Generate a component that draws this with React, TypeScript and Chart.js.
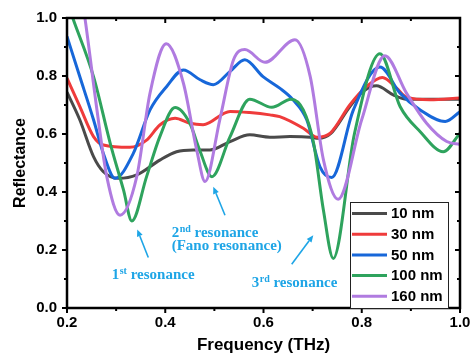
import React, { useEffect, useRef } from 'react';
import { Chart, registerables } from 'chart.js';

Chart.register(...registerables);

// ---------- data ----------
const freq10 = [0.2, 0.226, 0.254, 0.274, 0.305, 0.342, 0.389, 0.423, 0.457, 0.491, 0.532, 0.572, 0.613, 0.654, 0.695, 0.712, 0.736, 0.776, 0.803, 0.83, 0.864, 0.891, 0.94, 1.0];
const refl10 = [0.744, 0.649, 0.522, 0.47, 0.447, 0.459, 0.51, 0.539, 0.545, 0.545, 0.574, 0.597, 0.589, 0.591, 0.589, 0.585, 0.6, 0.695, 0.747, 0.766, 0.735, 0.72, 0.72, 0.72];

const freq30 = [0.2, 0.226, 0.254, 0.274, 0.328, 0.362, 0.389, 0.42, 0.45, 0.477, 0.532, 0.572, 0.613, 0.633, 0.681, 0.709, 0.736, 0.776, 0.81, 0.842, 0.871, 0.891, 0.939, 1.0];
const refl30 = [0.793, 0.695, 0.591, 0.562, 0.554, 0.579, 0.631, 0.654, 0.637, 0.632, 0.678, 0.674, 0.666, 0.66, 0.62, 0.589, 0.603, 0.701, 0.764, 0.795, 0.758, 0.727, 0.718, 0.724];

const freq50 = [0.2, 0.226, 0.254, 0.274, 0.298, 0.335, 0.369, 0.403, 0.437, 0.471, 0.498, 0.532, 0.562, 0.599, 0.633, 0.66, 0.688, 0.715, 0.739, 0.783, 0.837, 0.878, 0.919, 0.97, 1.0];
const refl50 = [0.936, 0.798, 0.649, 0.533, 0.447, 0.533, 0.683, 0.764, 0.821, 0.787, 0.77, 0.816, 0.856, 0.798, 0.758, 0.718, 0.649, 0.487, 0.45, 0.683, 0.831, 0.741, 0.683, 0.643, 0.677];

const freq100 = [0.2, 0.213, 0.254, 0.288, 0.315, 0.332, 0.362, 0.389, 0.42, 0.45, 0.47, 0.495, 0.532, 0.572, 0.617, 0.656, 0.681, 0.702, 0.722, 0.742, 0.785, 0.837, 0.878, 0.919, 0.966, 1.0];
const refl100 = [1.056, 0.994, 0.798, 0.568, 0.407, 0.3, 0.453, 0.591, 0.691, 0.637, 0.545, 0.453, 0.591, 0.72, 0.692, 0.72, 0.683, 0.568, 0.337, 0.171, 0.6, 0.877, 0.695, 0.608, 0.539, 0.603];

const freq160 = [0.2, 0.237, 0.261, 0.281, 0.308, 0.342, 0.369, 0.402, 0.437, 0.464, 0.481, 0.511, 0.539, 0.562, 0.603, 0.664, 0.695, 0.722, 0.752, 0.8, 0.847, 0.891, 0.932, 0.973, 1.0];
const refl160 = [1.4, 0.994, 0.683, 0.453, 0.32, 0.453, 0.741, 0.911, 0.775, 0.545, 0.436, 0.649, 0.856, 0.891, 0.847, 0.925, 0.799, 0.511, 0.375, 0.65, 0.87, 0.741, 0.637, 0.574, 0.564];

const seriesLabels = ['10 nm', '30 nm', '50 nm', '100 nm', '160 nm'];
const seriesColors = ['#4a4a4a', '#ef3b3b', '#1767d9', '#2ea35d', '#b07be0'];
const seriesFreqs = [freq10, freq30, freq50, freq100, freq160];
const seriesRefls = [refl10, refl30, refl50, refl100, refl160];

const xMajorTicks = [0.2, 0.4, 0.6, 0.8, 1.0];
const xMinorTicks = [0.3, 0.5, 0.7, 0.9];
const yMajorTicks = [0.0, 0.2, 0.4, 0.6, 0.8, 1.0];
const yMinorTicks = [0.1, 0.3, 0.5, 0.7, 0.9];

// annotations: arrow tail/head and text anchors in data coordinates
const arrowTails = [[0.3655, 0.174], [0.5216, 0.32], [0.6574, 0.151]];
const arrowHeads = [[0.343, 0.271], [0.4978, 0.418], [0.7014, 0.251]];
const noteLines = [
  { at: [0.291, 0.099], num: '1', sup: 'st', rest: ' resonance' },
  { at: [0.4131, 0.245], num: '2', sup: 'nd', rest: ' resonance' },
  { at: [0.4131, 0.199], num: '', sup: '', rest: '(Fano resonance)' },
  { at: [0.576, 0.0726], num: '3', sup: 'rd', rest: ' resonance' },
];

const SANS = "'Liberation Sans', Arial, Helvetica, sans-serif";
const SERIF = "'Liberation Serif', 'Times New Roman', serif";
const NOTE_COLOR = 'rgb(30,165,230)';

const decorPlugin = {
  id: 'decor',
  afterDatasetsDraw(chart: any) {
    const { ctx, chartArea, scales } = chart;
    const { left, right, top, bottom } = chartArea;
    const xs = scales.x;
    const ys = scales.y;
    ctx.save();
    ctx.strokeStyle = '#000';
    ctx.lineCap = 'butt';
    const seg = (x1: number, y1: number, x2: number, y2: number) => {
      ctx.beginPath();
      ctx.moveTo(x1, y1);
      ctx.lineTo(x2, y2);
      ctx.stroke();
    };
    ctx.lineWidth = 2;
    xMajorTicks.forEach((v) => {
      const p = xs.getPixelForValue(v);
      seg(p, bottom, p, bottom + 5);
      seg(p, top, p, top + 5);
    });
    xMinorTicks.forEach((v) => {
      const p = xs.getPixelForValue(v);
      seg(p, bottom, p, bottom + 3);
      seg(p, top, p, top + 3);
    });
    yMajorTicks.forEach((v) => {
      const p = ys.getPixelForValue(v);
      seg(left - 5, p, left, p);
      seg(right - 5, p, right, p);
    });
    yMinorTicks.forEach((v) => {
      const p = ys.getPixelForValue(v);
      seg(left - 3, p, left, p);
      seg(right - 3, p, right, p);
    });
    ctx.lineWidth = 2.5;
    ctx.strokeRect(left, top, right - left, bottom - top);

    // annotations
    ctx.strokeStyle = NOTE_COLOR;
    ctx.fillStyle = NOTE_COLOR;
    ctx.lineWidth = 1.6;
    arrowTails.forEach((t, i) => {
      const h = arrowHeads[i];
      const x1 = xs.getPixelForValue(t[0]);
      const y1 = ys.getPixelForValue(t[1]);
      const x2 = xs.getPixelForValue(h[0]);
      const y2 = ys.getPixelForValue(h[1]);
      const ang = Math.atan2(y2 - y1, x2 - x1);
      const hl = 7;
      const hw = 3;
      const bx = x2 - hl * Math.cos(ang);
      const by = y2 - hl * Math.sin(ang);
      seg(x1, y1, bx, by);
      ctx.beginPath();
      ctx.moveTo(x2, y2);
      ctx.lineTo(bx + hw * Math.sin(ang), by - hw * Math.cos(ang));
      ctx.lineTo(bx - hw * Math.sin(ang), by + hw * Math.cos(ang));
      ctx.closePath();
      ctx.fill();
    });
    ctx.textBaseline = 'alphabetic';
    ctx.textAlign = 'left';
    noteLines.forEach((n) => {
      let x = xs.getPixelForValue(n.at[0]);
      const y = ys.getPixelForValue(n.at[1]);
      ctx.font = `bold 15px ${SERIF}`;
      if (n.num) {
        ctx.fillText(n.num, x, y);
        x += ctx.measureText(n.num).width;
        ctx.font = `bold 10px ${SERIF}`;
        ctx.fillText(n.sup, x + 0.5, y - 5);
        x += ctx.measureText(n.sup).width + 0.5;
        ctx.font = `bold 15px ${SERIF}`;
      }
      ctx.fillText(n.rest, x, y);
    });

    // legend
    const bw = 98;
    const bh = 106;
    const bx0 = right - 12 - bw;
    const by0 = bottom - bh;
    ctx.fillStyle = '#fff';
    ctx.fillRect(bx0, by0, bw, bh);
    ctx.strokeStyle = '#222';
    ctx.lineWidth = 1;
    ctx.strokeRect(bx0 + 0.5, by0 + 0.5, bw, bh);
    ctx.font = `bold 15px ${SANS}`;
    ctx.textBaseline = 'middle';
    seriesLabels.forEach((lab, i) => {
      const cy = by0 + 11.5 + i * 20.7;
      ctx.strokeStyle = seriesColors[i];
      ctx.lineWidth = 3;
      seg(bx0 + 2, cy, bx0 + 37, cy);
      ctx.fillStyle = '#000';
      ctx.fillText(lab, bx0 + 41, cy + 0.5);
    });
    ctx.restore();
  },
};

export default function App() {
  const ref = useRef<HTMLCanvasElement>(null);
  useEffect(() => {
    document.body.style.margin = '0';
    const canvas = ref.current;
    if (!canvas) return;
    const datasets = seriesLabels.map((lab, i) => ({
      label: lab,
      data: seriesFreqs[i].map((f, j) => ({ x: f, y: seriesRefls[i][j] })),
      borderColor: seriesColors[i],
      backgroundColor: seriesColors[i],
      borderWidth: 3,
      pointRadius: 0,
      fill: false,
      cubicInterpolationMode: 'monotone' as const,
      order: seriesLabels.length - i,
    }));
    const chart = new Chart(canvas, {
      type: 'line',
      data: { datasets },
      options: {
        animation: false,
        responsive: false,
        devicePixelRatio: 1,
        layout: { padding: { left: 0, top: 18, right: 11, bottom: 0 } },
        plugins: { legend: { display: false }, tooltip: { enabled: false } },
        scales: {
          x: {
            type: 'linear',
            min: 0.2,
            max: 1.0,
            afterBuildTicks: (s: any) => {
              s.ticks = xMajorTicks.map((v) => ({ value: v }));
            },
            afterFit: (s: any) => {
              s.height = 48;
              s.paddingLeft = 0;
              s.paddingRight = 0;
            },
            ticks: {
              callback: (v: any) => Number(v).toFixed(1),
              font: { family: SANS, size: 15, weight: 'bold' },
              color: '#000',
              padding: 6,
              maxRotation: 0,
              autoSkip: false,
            },
            grid: { display: false, drawTicks: false },
            border: { display: false },
            title: {
              display: true,
              text: 'Frequency (THz)',
              font: { family: SANS, size: 17, weight: 'bold' },
              color: '#000',
              padding: { top: 0, bottom: 0 },
            },
          },
          y: {
            type: 'linear',
            min: 0,
            max: 1.0,
            afterBuildTicks: (s: any) => {
              s.ticks = yMajorTicks.map((v) => ({ value: v }));
            },
            afterFit: (s: any) => {
              s.width = 67;
              s.paddingTop = 0;
              s.paddingBottom = 0;
            },
            ticks: {
              callback: (v: any) => Number(v).toFixed(1),
              font: { family: SANS, size: 15, weight: 'bold' },
              color: '#000',
              padding: 10,
            },
            grid: { display: false, drawTicks: false },
            border: { display: false },
            title: {
              display: true,
              text: 'Reflectance',
              font: { family: SANS, size: 16, weight: 'bold' },
              color: '#000',
              padding: { top: 11, bottom: 0 },
            },
          },
        },
      },
      plugins: [decorPlugin],
    });
    return () => chart.destroy();
  }, []);
  return (
    <div style={{ width: 471, height: 356 }}>
      <canvas ref={ref} width={471} height={356} style={{ display: 'block' }} />
    </div>
  );
}
